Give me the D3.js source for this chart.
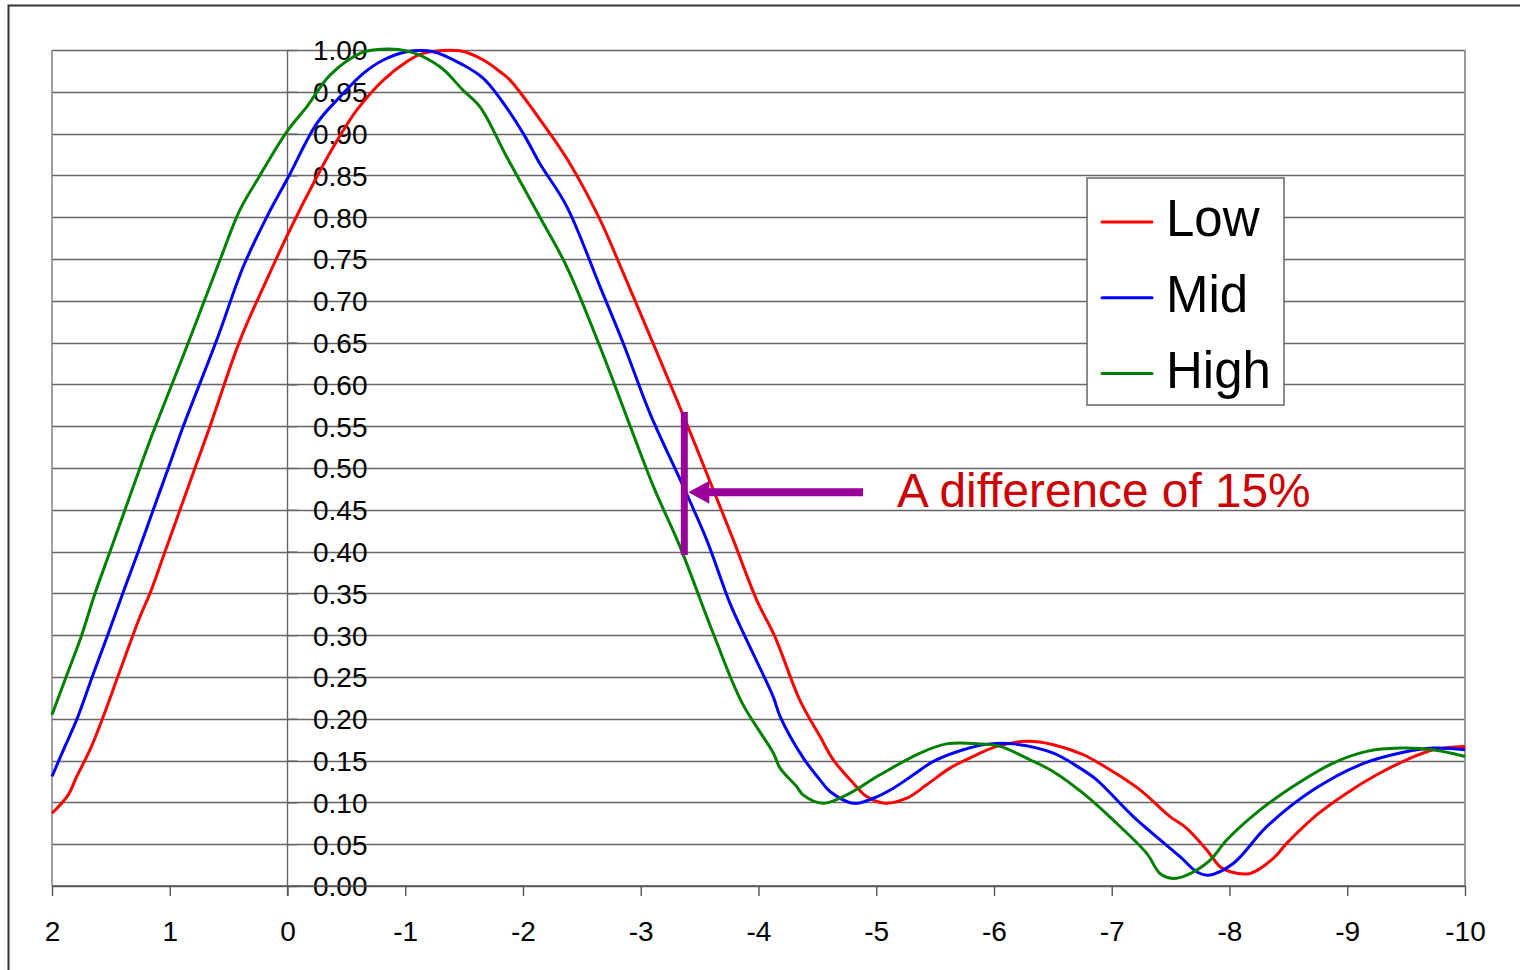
<!DOCTYPE html>
<html>
<head>
<meta charset="utf-8">
<script src="https://cdn.jsdelivr.net/npm/d3@7"></script>
<style>
html,body{margin:0;padding:0;background:#fff;}
svg{display:block;font-family:"Liberation Sans",Arial,Helvetica,sans-serif;}
</style>
</head>
<body>
<svg id="chart" width="1520" height="970"></svg>
<script>
// ---------- data ----------
const lowX  = [2.0,1.862,1.790,1.677,1.564,1.437,1.253,1.168,1.040,0.913,0.786,0.658,0.403,0.177,-0.021,-0.248,-0.389,-0.588,-0.814,-1.012,-1.153,-1.465,-1.663,-1.805,-1.890,-2.229,-2.399,-2.654,-2.852,-3.165,-3.390,-3.616,-3.786,-3.985,-4.140,-4.352,-4.522,-4.635,-4.805,-4.919,-5.074,-5.259,-5.428,-5.626,-5.824,-6.023,-6.277,-6.504,-6.759,-6.985,-7.240,-7.495,-7.637,-7.807,-7.920,-8.006,-8.176,-8.372,-8.486,-8.741,-8.995,-9.250,-9.505,-9.731,-10.0];
const lowY  = [0.087,0.109,0.131,0.163,0.203,0.252,0.322,0.350,0.400,0.450,0.500,0.550,0.653,0.725,0.785,0.848,0.884,0.928,0.964,0.986,0.996,0.999,0.988,0.974,0.964,0.900,0.864,0.797,0.733,0.629,0.553,0.474,0.414,0.342,0.298,0.222,0.179,0.151,0.123,0.107,0.099,0.105,0.121,0.141,0.155,0.167,0.173,0.169,0.157,0.139,0.115,0.083,0.069,0.043,0.023,0.017,0.015,0.033,0.051,0.085,0.111,0.133,0.151,0.163,0.167];

const midX  = [2.0,1.890,1.790,1.649,1.522,1.394,1.267,1.140,1.012,0.885,0.601,0.375,0.177,-0.007,-0.248,-0.446,-0.644,-0.814,-1.012,-1.238,-1.493,-1.663,-1.805,-2.003,-2.144,-2.371,-2.654,-2.852,-3.079,-3.361,-3.560,-3.758,-3.900,-4.126,-4.183,-4.381,-4.522,-4.607,-4.805,-4.975,-5.145,-5.315,-5.485,-5.739,-5.966,-6.164,-6.504,-6.730,-6.872,-7.183,-7.580,-7.721,-7.820,-8.032,-8.316,-8.712,-9.108,-9.448,-9.731,-10.0];
const midY  = [0.131,0.167,0.199,0.254,0.302,0.352,0.400,0.450,0.500,0.550,0.653,0.741,0.800,0.848,0.912,0.944,0.972,0.988,0.998,0.998,0.982,0.966,0.942,0.900,0.864,0.813,0.717,0.649,0.565,0.478,0.414,0.338,0.294,0.226,0.203,0.153,0.127,0.113,0.099,0.105,0.117,0.133,0.149,0.163,0.170,0.170,0.159,0.141,0.127,0.083,0.035,0.017,0.013,0.027,0.071,0.115,0.145,0.159,0.165,0.163];

const highX = [2.0,1.875,1.748,1.635,1.507,1.380,1.253,1.168,0.856,0.573,0.403,0.234,0.007,-0.163,-0.361,-0.616,-0.726,-1.012,-1.295,-1.490,-1.635,-1.862,-2.144,-2.371,-2.654,-2.881,-3.107,-3.333,-3.616,-3.857,-4.126,-4.183,-4.324,-4.378,-4.550,-4.749,-5.032,-5.372,-5.598,-5.881,-6.051,-6.306,-6.501,-6.756,-7.011,-7.297,-7.410,-7.520,-7.637,-7.836,-7.976,-8.260,-8.539,-8.880,-9.165,-9.448,-9.728,-10.0];
const highY = [0.205,0.252,0.300,0.350,0.400,0.450,0.500,0.533,0.645,0.749,0.809,0.850,0.902,0.932,0.970,0.996,1.000,0.999,0.980,0.952,0.932,0.872,0.800,0.741,0.645,0.561,0.478,0.406,0.302,0.220,0.159,0.141,0.119,0.109,0.099,0.109,0.133,0.159,0.170,0.170,0.167,0.151,0.137,0.111,0.079,0.039,0.015,0.009,0.013,0.031,0.055,0.091,0.119,0.147,0.161,0.165,0.163,0.155];

const seriesNames  = ["Low","Mid","High"];
const seriesColors = ["#ff0000","#0000ff","#008000"];
const xTicks = [2,1,0,-1,-2,-3,-4,-5,-6,-7,-8,-9,-10];
const yTicks = d3.range(0,21).map(i=>i*0.05);

// annotation (data units)
const annoX = -3.37, annoTop = 0.567, annoBottom = 0.396, annoArrowY = 0.471, annoArrowEnd = -4.888;
const annoText = "A difference of 15%", annoTextX = -5.176, annoTextY = 0.453;

// ---------- drawing ----------
const svg = d3.select("#chart");
const x = d3.scaleLinear().domain([2,-10]).range([52,1465]);
const y = d3.scaleLinear().domain([0,1]).range([886,50]);

// outer frame
svg.append("rect").attr("x",8.5).attr("y",5.5).attr("width",1700).attr("height",1100)
  .attr("fill","#fff").attr("stroke","#333").attr("stroke-width",2);

// gridlines
svg.append("g").selectAll("line").data(yTicks).join("line")
  .attr("x1",x(2)).attr("x2",x(-10))
  .attr("y1",d=>Math.round(y(d))+0.5).attr("y2",d=>Math.round(y(d))+0.5)
  .attr("stroke","#666").attr("stroke-width",1.4);

// left & right plot border
svg.append("line").attr("x1",x(2)).attr("x2",x(2)).attr("y1",y(1)).attr("y2",y(0))
  .attr("stroke","#808080").attr("stroke-width",1.5);
svg.append("line").attr("x1",x(-10)).attr("x2",x(-10)).attr("y1",y(1)).attr("y2",y(0))
  .attr("stroke","#999").attr("stroke-width",2);

// y axis at x=0 with ticks to the right
const yAxisG = svg.append("g").attr("transform",`translate(${x(0)},0)`);
yAxisG.call(d3.axisRight(y).tickValues(yTicks).tickSize(10).tickFormat(d3.format(".2f")));
yAxisG.select(".domain").attr("stroke","#666").attr("stroke-width",1.4).attr("d",`M0,${y(1)}V${y(0)+10}`);
yAxisG.selectAll(".tick line").attr("stroke","#666").attr("stroke-width",1.4);
yAxisG.selectAll(".tick text").attr("x",80).attr("text-anchor","end")
  .attr("font-size",28).attr("fill","#000").attr("dy","0.35em")
  .style("font-family","'Liberation Sans',Arial,sans-serif");

// x axis
const xAxisG = svg.append("g").attr("transform",`translate(0,${y(0)})`);
xAxisG.call(d3.axisBottom(x).tickValues(xTicks).tickSize(10).tickFormat(d3.format("d")));
xAxisG.select(".domain").attr("stroke","#555").attr("stroke-width",1.6).attr("d",`M${x(2)},0H${x(-10)}`);
xAxisG.selectAll(".tick line").attr("stroke","#555").attr("stroke-width",1.4);
xAxisG.selectAll(".tick text").attr("y",45).attr("dy","0.35em")
  .attr("font-size",28).attr("fill","#000")
  .style("font-family","'Liberation Sans',Arial,sans-serif")
  .text(d=> d<0 ? "-"+Math.abs(d) : String(d));

// series
const seriesData = [
  lowX.map((v,i)=>[v,lowY[i]]),
  midX.map((v,i)=>[v,midY[i]]),
  highX.map((v,i)=>[v,highY[i]])
];
const line = d3.line().x(d=>x(d[0])).y(d=>y(d[1])).curve(d3.curveCatmullRom.alpha(0.5));
svg.append("g").selectAll("path").data(seriesData).join("path")
  .attr("d",line).attr("fill","none")
  .attr("stroke",(d,i)=>seriesColors[i]).attr("stroke-width",3)
  .attr("stroke-linejoin","round");

// annotation
const purple = "#990099";
svg.append("line").attr("x1",x(annoX)).attr("x2",x(annoX)).attr("y1",y(annoTop)).attr("y2",y(annoBottom))
  .attr("stroke",purple).attr("stroke-width",7);
const ay = y(annoArrowY), ax = x(annoX)+4;
svg.append("line").attr("x1",ax+18).attr("x2",x(annoArrowEnd)).attr("y1",ay).attr("y2",ay)
  .attr("stroke",purple).attr("stroke-width",8);
svg.append("path").attr("d",`M${ax},${ay}L${ax+21},${ay-11.5}L${ax+21},${ay+11.5}Z`).attr("fill",purple);
svg.append("text").attr("x",x(annoTextX)).attr("y",y(annoTextY))
  .attr("font-size",47.8).attr("fill","#cc0000").text(annoText);

// legend
const lg = svg.append("g");
lg.append("rect").attr("x",1087).attr("y",178).attr("width",197).attr("height",227)
  .attr("fill","#fff").attr("stroke","#666").attr("stroke-width",1.5);
seriesNames.forEach((n,i)=>{
  const ly = 222 + i*75.7;
  lg.append("line").attr("x1",1102).attr("x2",1152).attr("y1",ly).attr("y2",ly)
    .attr("stroke",seriesColors[i]).attr("stroke-width",3).attr("stroke-linecap","round");
  lg.append("text").attr("x",1166).attr("y",236+i*76).attr("font-size",51).attr("fill","#000").text(n);
});
</script>
</body>
</html>
